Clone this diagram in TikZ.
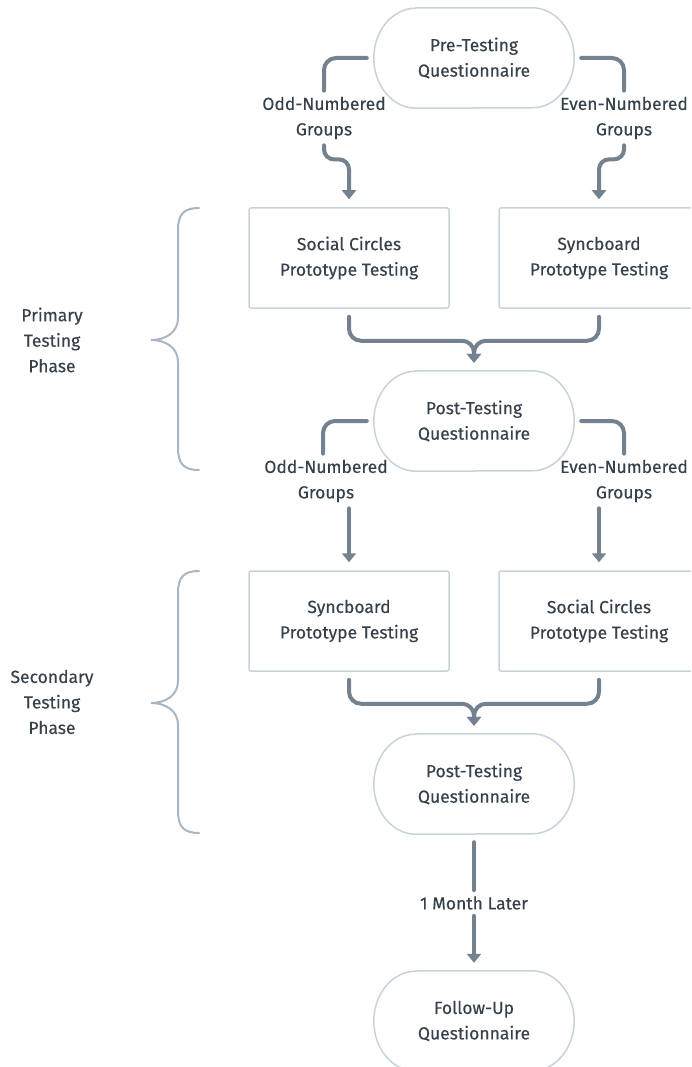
\documentclass[tikz,border=0pt]{standalone}
\usepackage{fontspec}
\setmainfont{Fira Sans}
\newfontfamily\chartfont{Fira Sans}[FakeBold=0.35]
\usetikzlibrary{arrows.meta}
\definecolor{flowc}{HTML}{74818E}
\definecolor{edgec}{HTML}{C8D2DC}
\definecolor{inkc}{HTML}{36414C}
\definecolor{bracec}{HTML}{A9B6C3}

% outline of a pill-shaped node with elliptical ends
\newcommand\pilloutline[1]{%
  \draw[edgec, line width=1.5pt]
    ([xshift=42pt]#1.north west) -- ([xshift=-42pt]#1.north east)
    arc[start angle=90, end angle=-90, x radius=42pt, y radius=50pt]
    -- ([xshift=42pt]#1.south west)
    arc[start angle=270, end angle=90, x radius=42pt, y radius=50pt]
    -- cycle;}

\begin{document}
\begin{tikzpicture}[x=1pt, y=-1pt,
  font=\chartfont\fontsize{17.5}{25.5}\selectfont, text=inkc,
  box/.style={draw=edgec, line width=1.5pt, rounded corners=2pt,
    minimum width=200pt, minimum height=100pt, align=center, inner sep=0pt},
  pill/.style={minimum width=200pt, minimum height=100pt, align=center, inner sep=0pt},
  lbl/.style={align=center, inner xsep=0pt, inner ysep=6pt},
  flow/.style={draw=flowc, line width=4pt, line cap=round, rounded corners=12pt},
  tip/.style={-{Triangle[length=9pt, width=14pt]}},
  brace/.style={draw=bracec, line width=2pt, line cap=round}]

\useasboundingbox (0,0) rectangle (691,1067);
\clip (0,0) rectangle (691,1067);

% nodes
\node[pill] (pre) at (474,58) {Pre-Testing\\Questionnaire};
\node[lbl] (odd1) at (324,118) {Odd-Numbered\\Groups};
\node[lbl] (even1) at (624,118) {Even-Numbered\\Groups};
\node[box] (sc1) at (349,258) {Social Circles\\Prototype Testing};
\node[box] (sb1) at (599,258) {Syncboard\\Prototype Testing};
\node[pill] (post1) at (474,421) {Post-Testing\\Questionnaire};
\node[lbl] (odd2) at (326,481) {Odd-Numbered\\Groups};
\node[lbl] (even2) at (624,481) {Even-Numbered\\Groups};
\node[box] (sb2) at (349,621) {Syncboard\\Prototype Testing};
\node[box] (sc2) at (599,621) {Social Circles\\Prototype Testing};
\node[pill] (post2) at (474,784) {Post-Testing\\Questionnaire};
\node[lbl] (later) at (474,903) {1 Month Later};
\node[pill] (follow) at (474,1021) {Follow-Up\\Questionnaire};

\node[align=center] (primary) at (52,340) {Primary\\Testing\\Phase};
\node[align=center] (secondary) at (52,702) {Secondary\\Testing\\Phase};

\pilloutline{pre}
\pilloutline{post1}
\pilloutline{post2}
\pilloutline{follow}

% split after the pre-testing questionnaire
\draw[flow] ([xshift=-7pt]pre.west) -| (odd1.north);
\draw[flow] ([xshift=7pt]pre.east) -| (even1.north);
\draw[flow, rounded corners=10pt, tip, shorten >=8pt] (odd1.south) -- ++(0,14) -| (sc1.north);
\draw[flow, rounded corners=10pt, tip, shorten >=8pt] (even1.south) -- ++(0,14) -| (sb1.north);

% merge into the first post-testing questionnaire
\draw[flow, tip, shorten <=8pt, shorten >=8pt] (sc1.south) -- ++(0,32) -| (post1.north);
\draw[flow, tip, shorten <=8pt, shorten >=8pt] (sb1.south) -- ++(0,32) -| (post1.north);

% second split
\draw[flow] ([xshift=-7pt]post1.west) -| ([xshift=-3pt]odd2.north);
\draw[flow] ([xshift=7pt]post1.east) -| (even2.north);
\draw[flow, tip, shorten >=8pt] (odd2.south -| sb2.north) -- (sb2.north);
\draw[flow, tip, shorten >=8pt] (even2.south -| sc2.north) -- (sc2.north);

% merge into the second post-testing questionnaire
\draw[flow, tip, shorten <=8pt, shorten >=8pt] (sb2.south) -- ++(0,32) -| (post2.north);
\draw[flow, tip, shorten <=8pt, shorten >=8pt] (sc2.south) -- ++(0,32) -| (post2.north);

% follow-up
\draw[flow, shorten <=8pt] (post2.south) -- (later.north);
\draw[flow, tip, shorten >=8pt] (later.south) -- (follow.north);

% phase braces
\draw[brace] (199,208) .. controls (184,208) and (178,214) .. (178,230)
  -- (178,318) .. controls (178,332) and (166,340) .. (151,340)
  .. controls (166,340) and (178,348) .. (178,362)
  -- (178,448) .. controls (178,464) and (184,470) .. (199,470);
\draw[brace] (199,571) .. controls (184,571) and (178,577) .. (178,593)
  -- (178,681) .. controls (178,695) and (166,703) .. (151,703)
  .. controls (166,703) and (178,711) .. (178,725)
  -- (178,811) .. controls (178,827) and (184,833) .. (199,833);
\end{tikzpicture}
\end{document}
